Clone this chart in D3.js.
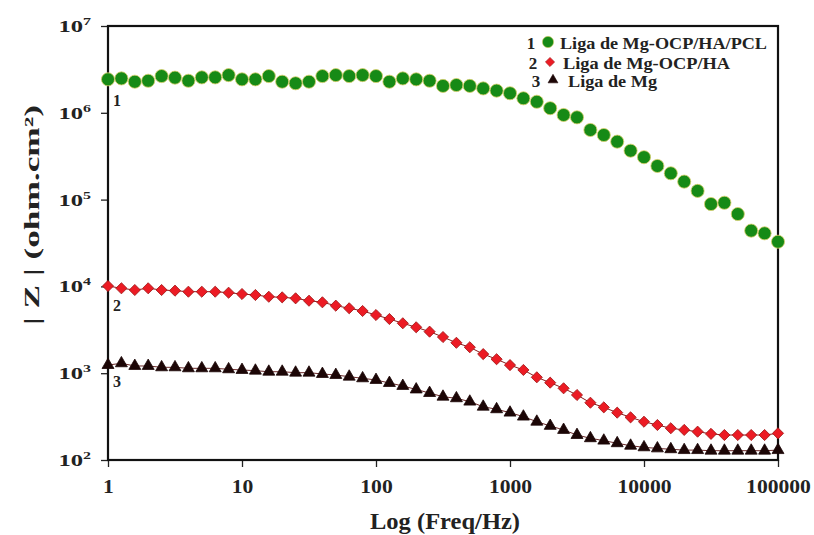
<!DOCTYPE html>
<html>
<head>
<meta charset="utf-8">
<script src="https://cdn.jsdelivr.net/npm/d3@7"></script>
<style>
  body { margin: 0; background: #fff; }
  text { font-family: "Liberation Serif", "Times New Roman", serif; font-weight: bold; fill: #222; }
</style>
</head>
<body>
<div id="chart"></div>
<script>
// frequency points (Hz), 10 per decade
const freq = [1, 1.259, 1.585, 1.995, 2.512, 3.162, 3.981, 5.012, 6.31, 7.943,
  10, 12.59, 15.85, 19.95, 25.12, 31.62, 39.81, 50.12, 63.1, 79.43,
  100, 125.9, 158.5, 199.5, 251.2, 316.2, 398.1, 501.2, 631, 794.3,
  1000, 1259, 1585, 1995, 2512, 3162, 3981, 5012, 6310, 7943,
  10000, 12589, 15849, 19953, 25119, 31623, 39811, 50119, 63096, 79433, 100000];

// |Z| (ohm.cm2) - Liga de Mg-OCP/HA/PCL
const zPcl = [2.43e6, 2.49e6, 2.28e6, 2.34e6, 2.65e6, 2.54e6, 2.34e6, 2.56e6, 2.56e6, 2.72e6,
  2.43e6, 2.43e6, 2.65e6, 2.28e6, 2.19e6, 2.28e6, 2.65e6, 2.72e6, 2.65e6, 2.72e6,
  2.65e6, 2.28e6, 2.49e6, 2.43e6, 2.34e6, 2.04e6, 2.09e6, 2.04e6, 1.91e6, 1.80e6,
  1.68e6, 1.47e6, 1.34e6, 1.13e6, 9.44e5, 8.87e5, 6.34e5, 5.55e5, 4.65e5, 3.66e5,
  3.08e5, 2.44e5, 2.01e5, 1.61e5, 1.26e5, 8.89e4, 9.20e4, 6.82e4, 4.39e4, 4.09e4, 3.27e4];

// |Z| - Liga de Mg-OCP/HA
const zHa = [1.01e4, 9510, 9090, 9510, 9090, 8930, 8690, 8690, 8690, 8460,
  8170, 7960, 7600, 7480, 7290, 6840, 6560, 6000, 5600, 5210,
  4680, 4210, 3760, 3380, 3010, 2610, 2240, 1990, 1660, 1450,
  1240, 1090, 897, 778, 670, 561, 457, 404, 351, 310,
  276, 253, 232, 222, 212, 200, 194, 194, 194, 194, 203];

// |Z| - Liga de Mg
const zMg = [1241, 1300, 1211, 1211, 1169, 1169, 1138, 1138, 1138, 1109,
  1089, 1069, 1040, 1040, 1014, 1014, 979, 953, 912, 873,
  835, 771, 713, 649, 591, 536, 514, 470, 411, 384,
  351, 316, 276, 247, 222, 194, 178, 167, 156, 146,
  140, 136, 133, 130, 130, 128, 128, 128, 128, 128, 130];

const xTicks = [1, 10, 100, 1000, 10000, 100000];
const yExp = [2, 3, 4, 5, 6, 7];
const legendNames = ["Liga de Mg-OCP/HA/PCL", "Liga de Mg-OCP/HA", "Liga de Mg"];
const curveIds = ["1", "2", "3"];

const width = 814, height = 535;
const svg = d3.select("#chart").append("svg")
  .attr("width", width)
  .attr("height", height);

const x = d3.scaleLog().domain([1, 1e5]).range([108, 778]);
const y = d3.scaleLog().domain([1e2, 1e7]).range([460, 26]);

// minor tick values for both axes
const xMinor = [];
xTicks.slice(0, -1).forEach(d => { for (let i = 2; i < 10; i++) xMinor.push(d * i); });
const yMinor = [];
yExp.slice(0, -1).forEach(e => { for (let i = 2; i < 10; i++) yMinor.push(i * Math.pow(10, e)); });

// x axis
const gx = svg.append("g").attr("transform", "translate(0,460)");
gx.call(d3.axisBottom(x).tickValues(xMinor).tickSize(4).tickFormat(""));
gx.call(d3.axisBottom(x).tickValues(xTicks).tickSize(7).tickFormat(d3.format("d")));
gx.selectAll("path").remove();
gx.selectAll("line").attr("stroke", "#222").attr("stroke-width", 1.3);
gx.selectAll("text")
  .attr("y", 0)
  .attr("dy", 0)
  .attr("transform", "translate(0,33) scale(1.2,1)")
  .style("font-size", "18px")
  .style("font-family", "Liberation Serif, serif")
  .style("font-weight", "bold")
  .attr("fill", "#2a2a2a");

// y axis
const gy = svg.append("g").attr("transform", "translate(108,0)");
gy.call(d3.axisLeft(y).tickValues(yMinor).tickSize(4).tickFormat(""));
gy.call(d3.axisLeft(y).tickValues(yExp.map(e => Math.pow(10, e))).tickSize(7).tickFormat(""));
gy.selectAll("path").remove();
gy.selectAll("line").attr("stroke", "#222").attr("stroke-width", 1.3);

const yLab = svg.append("g").selectAll("text")
  .data(yExp)
  .enter().append("text")
  .attr("transform", e => `translate(91,${y(Math.pow(10, e)) + 6}) scale(1.45,1)`)
  .attr("text-anchor", "end")
  .style("font-size", "17px")
  .attr("fill", "#2a2a2a")
  .text("10");
yLab.append("tspan")
  .attr("dy", -7)
  .style("font-size", "11px")
  .text(e => e);

// frame
svg.append("rect")
  .attr("x", 108).attr("y", 26)
  .attr("width", 670).attr("height", 434)
  .attr("fill", "none")
  .attr("stroke", "#111")
  .attr("stroke-width", 2.2);

// axis titles
svg.append("text")
  .attr("x", 445).attr("y", 529)
  .attr("text-anchor", "middle")
  .attr("textLength", 150)
  .attr("lengthAdjust", "spacingAndGlyphs")
  .style("font-size", "23px")
  .text("Log (Freq/Hz)");

svg.append("text")
  .attr("transform", "translate(39,215) rotate(-90)")
  .attr("text-anchor", "middle")
  .attr("textLength", 220)
  .attr("lengthAdjust", "spacingAndGlyphs")
  .style("font-size", "22px")
  .text("| Z | (ohm.cm²)");

// series
const series = [
  { z: zPcl, sym: d3.symbolCircle, size: 135, fill: "#168a16", stroke: "#d8cf6a", rot: 0, line: null },
  { z: zHa, sym: d3.symbolSquare, size: 62, fill: "#ec1b24", stroke: "#a01616", rot: 45, line: "#8a1a1a" },
  { z: zMg, sym: d3.symbolTriangle, size: 62, fill: "#1c0606", stroke: "#1c0606", rot: 0, line: "#6a2a2a" }
];

const line = d3.line().x((d, i) => x(freq[i])).y(d => y(d));

series.forEach(s => {
  if (s.line) {
    svg.append("path")
      .datum(s.z)
      .attr("fill", "none")
      .attr("stroke", s.line)
      .attr("stroke-width", 1)
      .attr("d", line);
  }
  svg.append("g")
    .selectAll("path")
    .data(s.z)
    .enter().append("path")
    .attr("d", d3.symbol().type(s.sym).size(s.size))
    .attr("transform", (d, i) => `translate(${x(freq[i])},${y(d)}) rotate(${s.rot})`)
    .attr("fill", s.fill)
    .attr("stroke", s.stroke)
    .attr("stroke-width", 0.8);
});

// curve numbers beside the y axis
svg.append("g").selectAll("text")
  .data(series)
  .enter().append("text")
  .attr("x", 113)
  .attr("y", (s, i) => y(s.z[0]) + [27, 25, 22][i])
  .style("font-size", "16px")
  .attr("fill", "#333")
  .text((s, i) => curveIds[i]);

// legend
const leg = svg.append("g");
const legY = [43, 63, 81];
const legX = [531, 533, 536];
const legLen = [207, 167, 89];
series.forEach((s, i) => {
  leg.append("text")
    .attr("x", legX[i]).attr("y", legY[i] + 6)
    .attr("text-anchor", "middle")
    .style("font-size", "17px")
    .text(curveIds[i]);
  leg.append("path")
    .attr("d", d3.symbol().type(s.sym).size(i === 0 ? 100 : 42))
    .attr("transform", `translate(${legX[i] + 17},${legY[i] - 1}) rotate(${s.rot})`)
    .attr("fill", s.fill)
    .attr("stroke", s.stroke)
    .attr("stroke-width", 0.6);
  leg.append("text")
    .attr("x", [560, 563, 568][i]).attr("y", legY[i] + 6)
    .attr("textLength", legLen[i])
    .attr("lengthAdjust", "spacingAndGlyphs")
    .style("font-size", "16.5px")
    .text(legendNames[i]);
});
</script>
</body>
</html>
